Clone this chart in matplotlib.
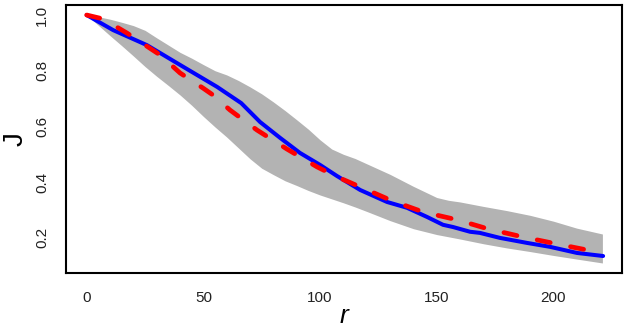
import matplotlib
matplotlib.use("Agg")
import matplotlib.pyplot as plt

plt.rcParams['font.family'] = ['Liberation Sans', 'DejaVu Sans']
plt.rcParams['lines.scale_dashes'] = False

# observed J function (blue)
r_obs = [0, 11.3, 25.8, 40.0, 55.9, 66.2, 74.3, 82.9, 91.4, 100.0, 107.3, 117.2,
         128.7, 137.3, 145.9, 152.7, 157.0, 164.3, 168.5, 177.1, 188.7, 198.5,
         210.1, 221.3]
j_obs = [1.0, 0.946, 0.892, 0.821, 0.742, 0.684, 0.616, 0.559, 0.505, 0.462,
         0.422, 0.372, 0.329, 0.308, 0.275, 0.247, 0.239, 0.222, 0.218, 0.200,
         0.182, 0.168, 0.146, 0.135]

# theoretical J (red dashed)
r_theo = [0, 7.0, 17.3, 31.4, 40.0, 49.8, 54.1, 61.4, 73.0, 85.8, 98.7, 107.3,
          117.2, 130.9, 144.2, 158.7, 172.1, 186.6, 201.6, 216.6, 221.3]
j_theo = [1.0, 0.986, 0.935, 0.857, 0.792, 0.738, 0.713, 0.659, 0.587, 0.519,
          0.455, 0.419, 0.383, 0.333, 0.293, 0.265, 0.232, 0.204, 0.178, 0.153,
          0.146]

# simulation envelope (grey)
r_env = [0, 5, 10, 15, 20, 25, 30, 35, 40, 45, 50, 55, 60, 65, 70, 75, 80, 85,
         90, 95, 100, 105, 110, 115, 120, 130, 140, 150, 155, 160, 170, 180,
         190, 200, 210, 221]
j_hi = [1.0, 0.994, 0.985, 0.974, 0.962, 0.945, 0.918, 0.892, 0.866, 0.845,
        0.822, 0.800, 0.785, 0.765, 0.742, 0.717, 0.688, 0.657, 0.624, 0.590,
        0.552, 0.519, 0.500, 0.485, 0.466, 0.428, 0.385, 0.345, 0.335, 0.329,
        0.313, 0.298, 0.281, 0.260, 0.235, 0.214]
j_lo = [1.0, 0.963, 0.926, 0.890, 0.853, 0.815, 0.780, 0.747, 0.713, 0.676,
        0.636, 0.598, 0.562, 0.523, 0.484, 0.450, 0.427, 0.405, 0.388, 0.370,
        0.354, 0.340, 0.326, 0.311, 0.295, 0.262, 0.233, 0.212, 0.204, 0.196,
        0.179, 0.164, 0.151, 0.137, 0.124, 0.110]

fig = plt.figure(figsize=(6.3, 3.32), dpi=100)
ax = fig.add_axes([66 / 630, 1 - 273 / 332, (622 - 66) / 630, (273 - 5) / 332])

ax.fill_between(r_env, j_lo, j_hi, color='#B3B3B3', linewidth=0)
ax.plot(r_obs, j_obs, color='#0000FF', lw=2.9, solid_capstyle='round',
        solid_joinstyle='round')
ax.plot(r_theo, j_theo, color='#FF0000', lw=3.4, linestyle=(0, (9.6, 14.9)),
        dash_capstyle='round')

ax.set_xlim(-8.87, 229.4)
ax.set_ylim(0.074, 1.036)
ax.set_xticks([0, 50, 100, 150, 200])
ax.set_yticks([0.2, 0.4, 0.6, 0.8, 1.0])
ax.set_yticklabels(['0.2', '0.4', '0.6', '0.8', '1.0'])
ax.tick_params(length=0, labelsize=11, colors='#222222')
ax.tick_params(axis='x', pad=13)
ax.tick_params(axis='y', pad=12, labelrotation=90)
for lbl in ax.get_yticklabels():
    lbl.set_va('center')

for s in ax.spines.values():
    s.set_linewidth(1.5)

ax.set_xlabel('r', fontsize=19, fontstyle='italic', labelpad=-1)
ax.set_ylabel('J', fontsize=20, labelpad=5)

fig.savefig('out.png', dpi=100)
